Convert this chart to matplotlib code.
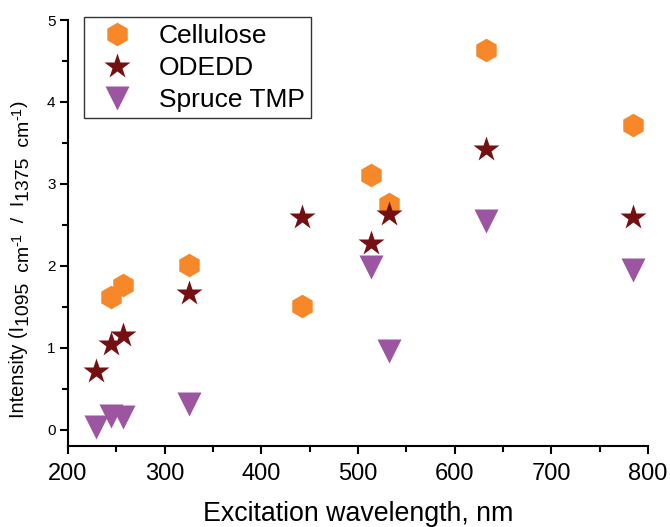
import matplotlib
matplotlib.use("Agg")
import matplotlib.pyplot as plt
from matplotlib.ticker import MultipleLocator

plt.rcParams['font.family'] = ['Liberation Sans', 'DejaVu Sans']

# excitation wavelengths, nm
wl = [229, 244, 257, 325, 442, 514, 532, 633, 785]
cellulose_wl = [244, 257, 325, 442, 514, 532, 633, 785]
cellulose = [1.62, 1.76, 2.01, 1.51, 3.11, 2.75, 4.64, 3.72]
odedd = [0.71, 1.04, 1.16, 1.67, 2.59, 2.28, 2.63, 3.43, 2.60]
spruce_wl = [229, 244, 257, 325, 514, 532, 633, 785]
spruce = [0.03, 0.17, 0.15, 0.31, 1.98, 0.96, 2.55, 1.95]

# y label pieces: (text, baseline shift in px, fontsize); + is subscript
ylabel_parts = [("Intensity (I", 0, 14.3), ("1095  cm", 5, 14), ("-1", -3, 10.5),
                ("  /  I", 0, 14), ("1375  cm", 5, 14), ("-1", -3, 10.5), (")", 0, 14)]

W, H = 670, 527
fig = plt.figure(figsize=(W / 100, H / 100), dpi=100)
ax = fig.add_axes([0.1015, 0.1537, 0.8655, 0.8083])

ax.plot(cellulose_wl, cellulose, 'h', ms=17, color='#F7882A', mec='none', label='Cellulose', zorder=3)
ax.plot(wl, odedd, '*', ms=19, color='#751012', mec='none', label='ODEDD', zorder=4)
ax.plot(spruce_wl, spruce, 'v', ms=17, color='#9C55A0', mec='none', label='Spruce TMP', zorder=2)

ax.set_xlim(200, 800)
ax.set_ylim(-0.2, 5)
ax.xaxis.set_major_locator(MultipleLocator(100))
ax.xaxis.set_minor_locator(MultipleLocator(50))
ax.yaxis.set_major_locator(MultipleLocator(1))
ax.yaxis.set_minor_locator(MultipleLocator(0.5))
ax.spines['top'].set_visible(False)
ax.spines['right'].set_visible(False)
for s in ['left', 'bottom']:
    ax.spines[s].set_linewidth(1.5)
ax.tick_params(which='major', direction='out', length=6, width=1.5)
ax.tick_params(which='minor', direction='out', length=4, width=1.5)
ax.tick_params(axis='x', labelsize=17, pad=6)
ax.tick_params(axis='y', labelsize=11, pad=3)

ax.set_xlabel('Excitation wavelength, nm', fontsize=19.3, labelpad=12)

leg = ax.legend(loc='upper left', bbox_to_anchor=(0.027, 1.006), fontsize=19, frameon=True,
                fancybox=False, edgecolor='black', borderpad=0.25, labelspacing=0.3,
                handletextpad=0.6, borderaxespad=0, handlelength=2.0)
leg.get_frame().set_linewidth(1.0)

# rotated y label built from pieces so the subscripts stay full size
renderer = fig.canvas.get_renderer()
x0, y0 = 24, 418  # baseline x, start y (pixels from top-left)
ypos = y0
for txt, shift, fs in ylabel_parts:
    t = fig.text((x0 + shift) / W, 1 - ypos / H, txt, fontsize=fs, rotation=90,
                 rotation_mode='anchor', ha='left', va='baseline')
    bb = t.get_window_extent(renderer)
    ypos -= bb.height

fig.savefig('out.png', dpi=100)
